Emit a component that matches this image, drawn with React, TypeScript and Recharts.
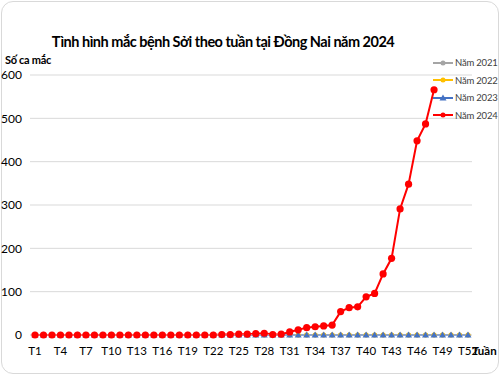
import { LineChart, Line, XAxis, YAxis, CartesianGrid } from 'recharts';

const weeks = Array.from({ length: 52 }, (_, i) => `T${i + 1}`);

const cases2021 = [
  0, 0, 0, 0, 0, 0, 0, 0, 0, 0, 0, 0, 0, 0, 0, 0, 0, 0, 0, 0, 0, 0, 0, 0, 0, 0,
  0, 0, 0, 0, 0, 0, 0, 0, 0, 0, 0, 0, 0, 0, 0, 0, 0, 0, 0, 0, 0, 0, 0, 0, 0, 0,
];
const cases2022 = [
  0, 0, 0, 0, 0, 0, 0, 0, 0, 0, 0, 0, 0, 0, 0, 0, 0, 0, 0, 0, 0, 0, 0, 0, 0, 0,
  0, 0, 0, 0, 0, 0, 0, 0, 0, 0, 0, 0, 0, 0, 0, 0, 0, 0, 0, 0, 0, 0, 0, 0, 0, 0,
];
const cases2023 = [
  0, 0, 0, 0, 0, 0, 0, 0, 0, 0, 0, 0, 0, 0, 0, 0, 0, 0, 0, 0, 0, 0, 0, 0, 0, 0,
  0, 0, 0, 0, 0, 0, 0, 0, 0, 0, 0, 0, 0, 0, 0, 0, 0, 0, 0, 0, 0, 0, 0, 0, 0, 0,
];
// 2024 only reported through T48
const cases2024 = [
  0, 0, 0, 0, 0, 0, 0, 0, 0, 0, 0, 0, 0, 0, 0, 0, 0, 0, 0, 0, 0, 0, 1, 1, 2, 2,
  3, 4, 1, 2, 7, 12, 17, 19, 21, 23, 54, 63, 65, 88, 96, 141, 177, 291, 348, 448,
  487, 566,
];

const yTicks = [0, 100, 200, 300, 400, 500, 600];

const series = [
  { key: 'y2021', name: 'Năm 2021', color: '#A5A5A5', marker: 'circle', data: cases2021 },
  { key: 'y2022', name: 'Năm 2022', color: '#FFC000', marker: 'circle', data: cases2022 },
  { key: 'y2023', name: 'Năm 2023', color: '#4472C4', marker: 'triangle', data: cases2023 },
  { key: 'y2024', name: 'Năm 2024', color: '#FF0000', marker: 'big', data: cases2024 },
];

const chartData = weeks.map((w, i) => {
  const row: Record<string, string | number | null> = { week: w };
  series.forEach((s) => {
    row[s.key] = i < s.data.length ? s.data[i] : null;
  });
  return row;
});

const FONT = 'Lato, "Open Sans", sans-serif';

function Marker({ cx, cy, kind, color }: { cx: number; cy: number; kind: string; color: string }) {
  if (cx == null || cy == null) return null;
  if (kind === 'triangle') {
    return <polygon points={`${cx},${cy - 3.5} ${cx + 3.5},${cy + 2.5} ${cx - 3.5},${cy + 2.5}`} fill={color} />;
  }
  return <circle cx={cx} cy={cy} r={kind === 'big' ? 3.6 : 2.5} fill={color} />;
}

function LegendBox() {
  return (
    <div
      style={{
        position: 'absolute',
        left: 433,
        top: 54,
        width: 66,
        fontFamily: FONT,
        fontSize: 9.5,
        letterSpacing: -0.2,
        color: '#404040',
        whiteSpace: 'nowrap',
      }}
    >
      {series.map((s) => (
        <div key={s.key} style={{ display: 'flex', alignItems: 'center', height: 17.5 }}>
          <svg width={20} height={10} style={{ marginRight: 2, flexShrink: 0 }}>
            <line x1={0} y1={5} x2={20} y2={5} stroke={s.color} strokeWidth={2} />
            <Marker cx={10} cy={5} kind={s.marker === 'big' ? 'circle' : s.marker} color={s.color} />
          </svg>
          <span>{s.name}</span>
        </div>
      ))}
    </div>
  );
}

export default function App() {
  return (
    <div
      style={{
        position: 'absolute',
        left: 0,
        top: 0,
        width: 500,
        height: 375,
        background: '#fff',
        fontFamily: FONT,
      }}
    >
      <div
        style={{
          position: 'absolute',
          left: 1,
          top: 1,
          width: 496,
          height: 371,
          border: '1px solid #d9d9d9',
          borderRadius: 12,
        }}
      />
      <LineChart
        width={500}
        height={375}
        data={chartData}
        margin={{ top: 75, right: 28, bottom: 0, left: 0 }}
        style={{ position: 'absolute', left: 0, top: 0 }}
      >
        <CartesianGrid vertical={false} stroke="#d9d9d9" strokeWidth={1} />
        <XAxis
          dataKey="week"
          interval={2}
          tickLine={false}
          axisLine={{ stroke: '#d9d9d9' }}
          tick={{ fontSize: 11.5, fill: '#000', fontFamily: FONT }}
          tickMargin={6}
          height={40}
          padding={{ left: 5, right: 4 }}
        />
        <YAxis
          domain={[0, 600]}
          ticks={yTicks}
          width={30}
          axisLine={false}
          tickLine={false}
          tick={{ fontSize: 12, fill: '#000', fontFamily: FONT }}
          tickMargin={2}
        />
        {series.map((s) => (
          <Line
            key={s.key}
            dataKey={s.key}
            name={s.name}
            stroke={s.color}
            strokeWidth={2}
            isAnimationActive={false}
            connectNulls={false}
            dot={(p: any) => <Marker key={`${s.key}-${p.index}`} cx={p.cx} cy={p.cy} kind={s.marker} color={s.color} />}
            activeDot={false}
          />
        ))}
      </LineChart>
      <div
        style={{
          position: 'absolute',
          left: 0,
          width: 446,
          top: 33,
          textAlign: 'center',
          fontSize: 14.5,
          letterSpacing: -0.5,
          fontWeight: 700,
          color: '#000',
        }}
      >
        Tình hình mắc bệnh Sởi theo tuần tại Đồng Nai năm 2024
      </div>
      <div
        style={{
          position: 'absolute',
          left: 5,
          top: 53,
          fontSize: 11,
          letterSpacing: -0.3,
          fontWeight: 700,
          color: '#000',
        }}
      >
        Số ca mắc
      </div>
      <div style={{ position: 'absolute', left: 472, top: 344, fontSize: 11.5, fontWeight: 700, color: '#000' }}>
        Tuần
      </div>
      <LegendBox />
    </div>
  );
}
